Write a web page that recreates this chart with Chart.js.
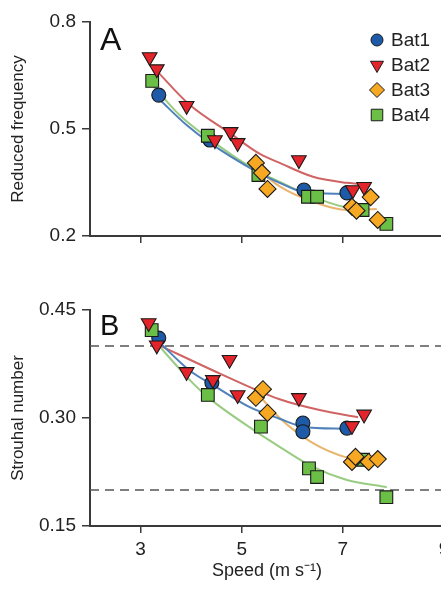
<!DOCTYPE html>
<html><head><meta charset="utf-8">
<script src="https://cdn.jsdelivr.net/npm/chart.js@4/dist/chart.umd.min.js"></script>
<style>
html,body{margin:0;padding:0;background:#fff;overflow:hidden;width:441px;height:590px;}
#wa{position:absolute;left:0;top:0;width:460px;height:260px;}
#wb{position:absolute;left:0;top:260px;width:460px;height:330px;}
</style></head><body>
<div id="wa"><canvas id="ca"></canvas></div>
<div id="wb"><canvas id="cb"></canvas></div>
<script>
// ---- data (speed m/s, value) ----
const bats = ['Bat1', 'Bat2', 'Bat3', 'Bat4'];
const xTicks = [3, 5, 7, 9];
const freqTicks = [0.2, 0.5, 0.8];
const stTicks = [0.15, 0.30, 0.45];
const dashedLevels = [0.40, 0.20];
const speedRange = [2, 9];

// Panel A: reduced frequency
const freqBat1 = [[3.36,0.595],[4.37,0.469],[6.23,0.329],[7.08,0.321]];
const freqBat2 = [[3.18,0.702],[3.32,0.668],[3.91,0.565],[4.47,0.469],[4.78,0.492],[4.92,0.461],[6.13,0.413],[7.20,0.329],[7.42,0.338]];
const freqBat3 = [[5.28,0.405],[5.40,0.377],[5.51,0.332],[7.18,0.282],[7.27,0.271],[7.55,0.309],[7.69,0.245]];
const freqBat4 = [[3.23,0.635],[4.33,0.481],[5.33,0.371],[6.31,0.310],[6.49,0.310],[7.39,0.273],[7.86,0.234]];
const freqFit1 = [[3.38,0.582],[3.91,0.511],[4.37,0.461],[5.30,0.380],[5.75,0.349],[6.21,0.324],[7.08,0.318]];
const freqFit2 = [[3.32,0.663],[3.97,0.568],[4.76,0.489],[5.36,0.430],[5.75,0.405],[6.41,0.366],[7.08,0.349],[7.30,0.346]];
const freqFit3 = [[5.28,0.392],[5.75,0.339],[6.41,0.296],[7.08,0.273],[7.67,0.276]];
const freqFit4 = [[3.23,0.624],[3.77,0.539],[4.33,0.475],[5.33,0.380],[5.75,0.352],[6.21,0.321],[7.08,0.279],[7.48,0.271]];

// Panel B: Strouhal number
const stBat1 = [[3.36,0.411],[4.41,0.349],[6.21,0.293],[6.21,0.281],[7.08,0.286]];
const stBat2 = [[3.16,0.432],[3.32,0.401],[3.91,0.364],[4.43,0.353],[4.76,0.381],[4.92,0.332],[6.13,0.328],[7.18,0.289],[7.42,0.305]];
const stBat3 = [[5.28,0.328],[5.42,0.340],[5.51,0.307],[7.18,0.239],[7.25,0.246],[7.51,0.239],[7.69,0.243]];
const stBat4 = [[3.22,0.422],[4.33,0.332],[5.38,0.288],[6.33,0.230],[6.49,0.218],[7.40,0.242],[7.86,0.190]];
const stFit1 = [[3.36,0.406],[3.97,0.366],[4.50,0.343],[5.16,0.315],[5.75,0.299],[6.21,0.288],[7.08,0.285]];
const stFit2 = [[3.34,0.402],[4.56,0.362],[5.75,0.326],[6.54,0.311],[7.30,0.301]];
const stFit3 = [[5.30,0.335],[5.75,0.300],[6.41,0.265],[7.08,0.245],[7.67,0.239]];
const stFit4 = [[3.23,0.411],[3.97,0.353],[4.33,0.329],[5.33,0.279],[5.75,0.260],[6.41,0.232],[7.08,0.214],[7.87,0.204]];

// ---- styles ----
const FONT = '"Liberation Sans", Arial, Helvetica, sans-serif';
const fill = ['#1d5aa8', '#e3242b', '#f7a823', '#6bbf47'];
const lineCol = ['#4f82bb', '#d06464', '#e8b46e', '#99cc82'];
const shapes = ['circle', 'triangle', 'rectRot', 'rect'];
const rot = [0, 180, 0, 0];
const rad = [7, 8.5, 8.5, 9];
const ord = [0.3, 0.1, 0.0, 0.2];
const AX = '#3a3a3a';

const toXY = arr => arr.map(p => ({x: p[0], y: p[1]}));

function pointSet(i, arr) {
  return {
    label: bats[i], data: toXY(arr), showLine: false,
    pointStyle: shapes[i], rotation: rot[i], pointRadius: rad[i], pointHoverRadius: rad[i],
    backgroundColor: fill[i], borderColor: '#1a1a1a', pointBorderWidth: 1.1, borderWidth: 1.1,
    order: ord[i]
  };
}
function fitSet(i, arr) {
  return {
    label: bats[i] + ' fit', data: toXY(arr), showLine: true, pointRadius: 0,
    borderColor: lineCol[i], borderWidth: 2, cubicInterpolationMode: 'monotone',
    fill: false, order: 1 + i * 0.01
  };
}
function dashSet(level) {
  return {
    label: 'ref', data: toXY([[speedRange[0], level], [speedRange[1], level]]), showLine: true,
    pointRadius: 0, borderColor: '#555', borderWidth: 1.6, borderDash: [9, 6], order: 2
  };
}

const panelLabel = {
  id: 'panelLabel',
  afterDraw(chart, args, opts) {
    const {ctx, chartArea} = chart;
    ctx.save();
    ctx.fillStyle = '#111';
    ctx.font = opts.size + 'px ' + FONT;
    ctx.textBaseline = 'alphabetic';
    ctx.textAlign = 'left';
    ctx.fillText(opts.text, chartArea.left + 10, chartArea.top + opts.dy);
    ctx.restore();
  }
};

function drawMarker(ctx, i, x, y, r) {
  ctx.beginPath();
  if (shapes[i] === 'circle') {
    ctx.arc(x, y, r, 0, Math.PI * 2);
  } else if (shapes[i] === 'triangle') {
    const h = r;
    ctx.moveTo(x - h * 0.87, y - h * 0.5);
    ctx.lineTo(x + h * 0.87, y - h * 0.5);
    ctx.lineTo(x, y + h);
    ctx.closePath();
  } else if (shapes[i] === 'rectRot') {
    ctx.moveTo(x, y - r); ctx.lineTo(x + r, y); ctx.lineTo(x, y + r); ctx.lineTo(x - r, y); ctx.closePath();
  } else {
    const s = r * 0.72;
    ctx.rect(x - s, y - s, 2 * s, 2 * s);
  }
  ctx.fillStyle = fill[i];
  ctx.fill();
  ctx.lineWidth = 1;
  ctx.strokeStyle = '#1a1a1a';
  ctx.stroke();
}

const insideLegend = {
  id: 'insideLegend',
  afterDraw(chart, args, opts) {
    if (!opts.show) return;
    const {ctx, chartArea} = chart;
    ctx.save();
    const mx = chartArea.right - 67;
    const lr = [6, 7.5, 7.5, 8];
    bats.forEach((b, i) => {
      const y = chartArea.top + 18 + i * 25;
      drawMarker(ctx, i, mx, y, lr[i]);
      ctx.fillStyle = '#222';
      ctx.font = '19px ' + FONT;
      ctx.textAlign = 'left';
      ctx.textBaseline = 'middle';
      ctx.fillText(b, mx + 14, y + 1);
    });
    ctx.restore();
  }
};

function makeChart(canvasId, datasets, yTicks, decimals, yTitle, label, showXLabels, xAxisHeight, topPad, legend, labelSize, labelDy) {
  return new Chart(document.getElementById(canvasId), {
    type: 'scatter',
    data: {datasets},
    options: {
      responsive: true, maintainAspectRatio: false, animation: false,
      layout: {padding: {top: topPad, right: 16, left: 0, bottom: 0}},
      plugins: {
        legend: {display: false}, tooltip: {enabled: false},
        panelLabel: {text: label, size: labelSize, dy: labelDy},
        insideLegend: {show: legend}
      },
      scales: {
        x: {
          type: 'linear', min: speedRange[0], max: speedRange[1],
          afterBuildTicks: s => { s.ticks = xTicks.map(v => ({value: v})); },
          afterFit: s => { s.height = xAxisHeight; },
          grid: {drawOnChartArea: false, drawTicks: true, tickLength: 7, color: AX, lineWidth: 1.5},
          border: {display: true, color: AX, width: 2},
          ticks: {display: showXLabels, color: '#222', font: {family: FONT, size: 19}, padding: 5, maxRotation: 0,
                  callback: v => String(v)},
          title: {display: showXLabels, text: 'Speed (m s\u207B\u00B9)', color: '#222',
                  font: {family: FONT, size: 18}, padding: {top: 0, bottom: 8}}
        },
        y: {
          type: 'linear', min: yTicks[0], max: yTicks[yTicks.length - 1],
          afterBuildTicks: s => { s.ticks = yTicks.map(v => ({value: v})); },
          afterFit: s => { s.width = 90; },
          grid: {drawOnChartArea: false, drawTicks: true, tickLength: 8, color: AX, lineWidth: 1.5},
          border: {display: true, color: AX, width: 2},
          ticks: {color: '#222', font: {family: FONT, size: 19}, padding: 6,
                  callback: v => Number(v).toFixed(decimals)},
          title: {display: true, text: yTitle, color: '#222', font: {family: FONT, size: 17},
                  padding: {top: 8, bottom: 0}}
        }
      }
    },
    plugins: [panelLabel, insideLegend]
  });
}

const dsA = [
  pointSet(0, freqBat1), pointSet(1, freqBat2), pointSet(2, freqBat3), pointSet(3, freqBat4),
  fitSet(0, freqFit1), fitSet(1, freqFit2), fitSet(2, freqFit3), fitSet(3, freqFit4)
];
const dsB = [
  pointSet(0, stBat1), pointSet(1, stBat2), pointSet(2, stBat3), pointSet(3, stBat4),
  fitSet(0, stFit1), fitSet(1, stFit2), fitSet(2, stFit3), fitSet(3, stFit4),
  ...dashedLevels.map(dashSet)
];

makeChart('ca', dsA, freqTicks, 1, 'Reduced frequency', 'A', false, 24, 22, true, 32, 28);
makeChart('cb', dsB, stTicks, 2, 'Strouhal number', 'B', true, 64, 50, false, 29, 25);
</script>
</body></html>
